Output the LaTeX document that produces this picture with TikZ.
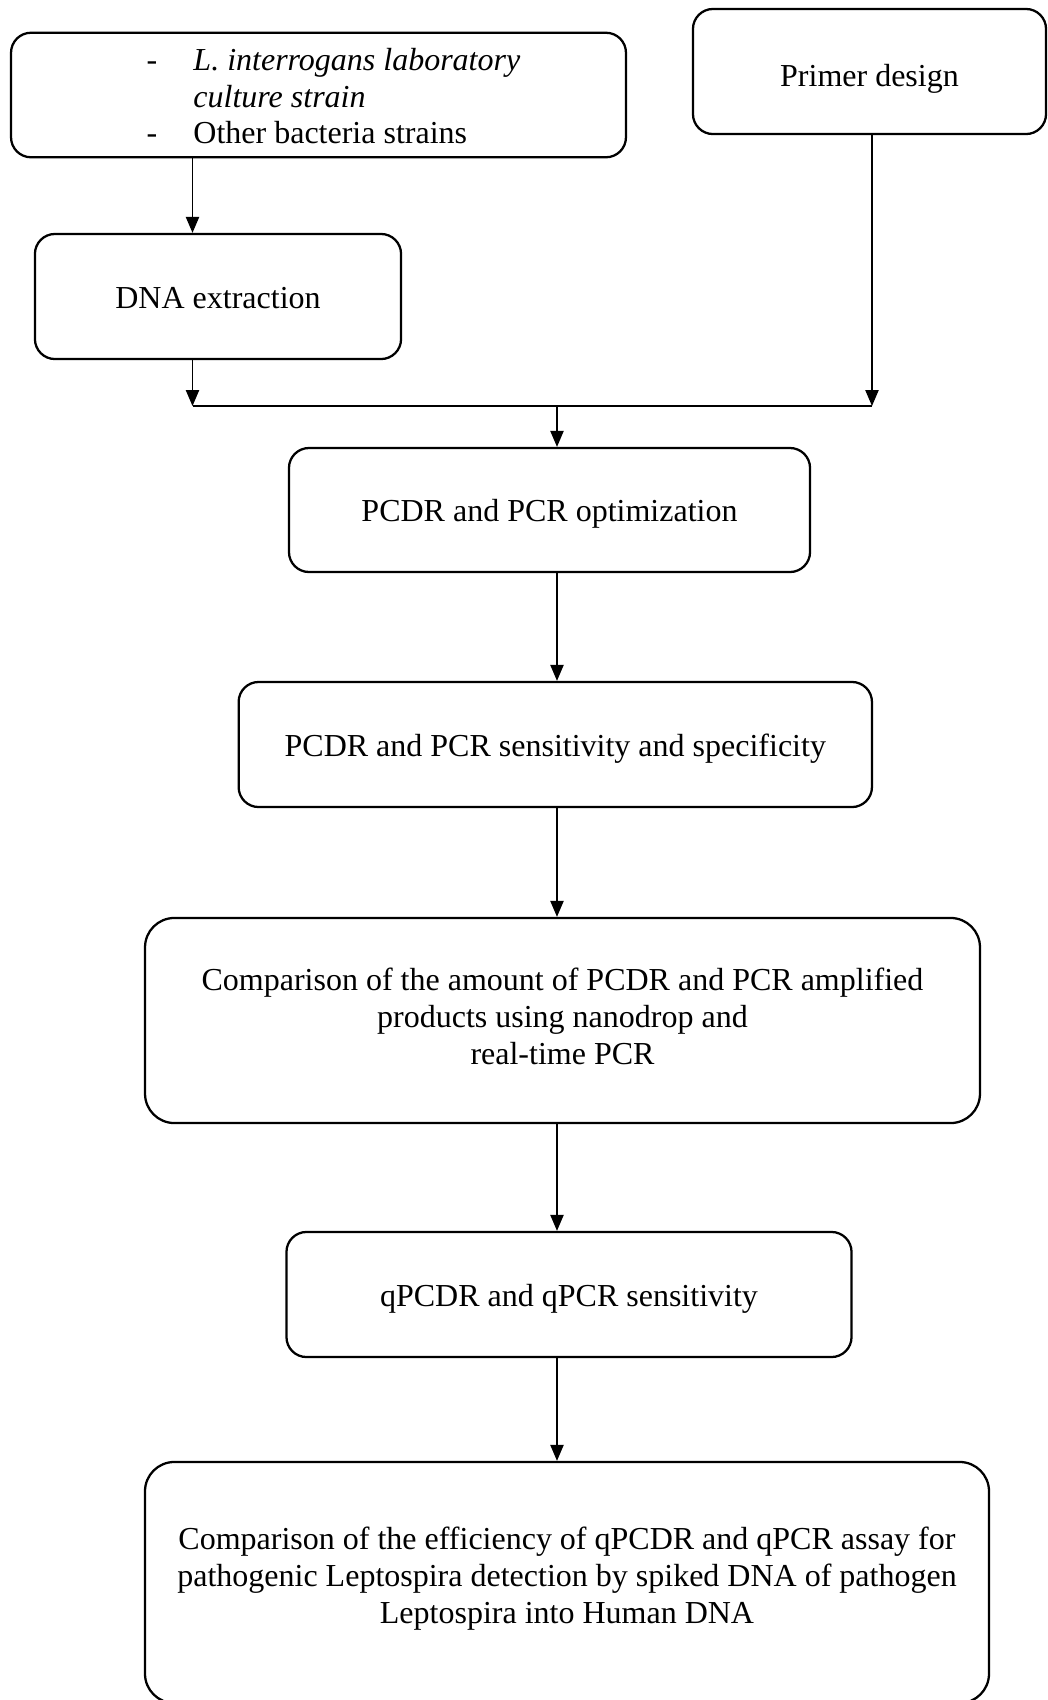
\documentclass[tikz,border=0pt]{standalone}
\usepackage{fontspec}
\setmainfont{Liberation Serif}
\usetikzlibrary{arrows.meta}

\tikzset{
    stage/.style={draw, rounded corners=7.5pt, line width=0.85pt, align=center, inner sep=0pt,
        font=\fontsize{12}{13.8}\selectfont},
    oneline/.style={stage, text height=9.5pt, text depth=0.6pt},
    bigstage/.style={stage, rounded corners=11pt},
    flow/.style={line width=0.45pt, -{Triangle[length=6pt,width=5pt]}},
}

\begin{document}
\begin{tikzpicture}[x=0.375pt, y=-0.375pt]
    \useasboundingbox (0,0) rectangle (1048,1700);
    % top row
    \node[stage, minimum width=230.6pt, minimum height=46.7pt] (strains) at (318.5,95) {};
    \node[anchor=west, inner sep=0pt, font=\fontsize{12}{13.6}\selectfont] (strainlist) at (146,100) {%
        \begin{tabular}{@{}p{17.6pt}@{}l@{}}
            - & \textit{L. interrogans laboratory}\\
              & \textit{culture strain}\\
            - & Other bacteria strains
        \end{tabular}};
    \node[oneline, text height=12pt, minimum width=132.4pt, minimum height=46.9pt] (primer) at (869.5,71.5) {Primer design};
    \node[oneline, minimum width=137.3pt, minimum height=46.9pt] (dna) at (218,296.5) {DNA extraction};
    % main column
    \node[oneline, minimum width=195.4pt, minimum height=46.5pt] (optim) at (549.5,510) {PCDR and PCR optimization};
    \node[oneline, minimum width=237.5pt, minimum height=46.9pt] (sens) at (555.3,744.5) {PCDR and PCR sensitivity and specificity};
    \node[bigstage, text depth=3pt, minimum width=313.1pt, minimum height=76.9pt] (amount) at (562.5,1020.5)
        {Comparison of the amount of PCDR and PCR amplified\\ products using nanodrop and\\ real-time PCR};
    \node[oneline, minimum width=211.9pt, minimum height=46.9pt] (qsens) at (569,1294.5) {qPCDR and qPCR sensitivity};
    \node[bigstage, text depth=5.5pt, minimum width=316.5pt, minimum height=90.4pt] (spiked) at (567,1582.5)
        {Comparison of the efficiency of qPCDR and qPCR assay for\\ pathogenic Leptospira detection by spiked DNA of pathogen\\ Leptospira into Human DNA};
    % junction
    \coordinate (jl) at (192.5,406);
    \coordinate (jr) at (872,406);
    \coordinate (jm) at (557,406);
    \draw[flow] (jl |- strains.south) -- (jl |- dna.north);
    \draw[flow] (jl |- dna.south) -- (jl);
    \draw[flow] (jr |- primer.south) -- (jr);
    \draw[line width=0.45pt] (jl) -- (jr);
    \draw[flow] (jm) -- (jm |- optim.north);
    \draw[flow] (jm |- optim.south) -- (jm |- sens.north);
    \draw[flow] (jm |- sens.south) -- (jm |- amount.north);
    \draw[flow] (jm |- amount.south) -- (jm |- qsens.north);
    \draw[flow] (jm |- qsens.south) -- (jm |- spiked.north);
\end{tikzpicture}
\end{document}
